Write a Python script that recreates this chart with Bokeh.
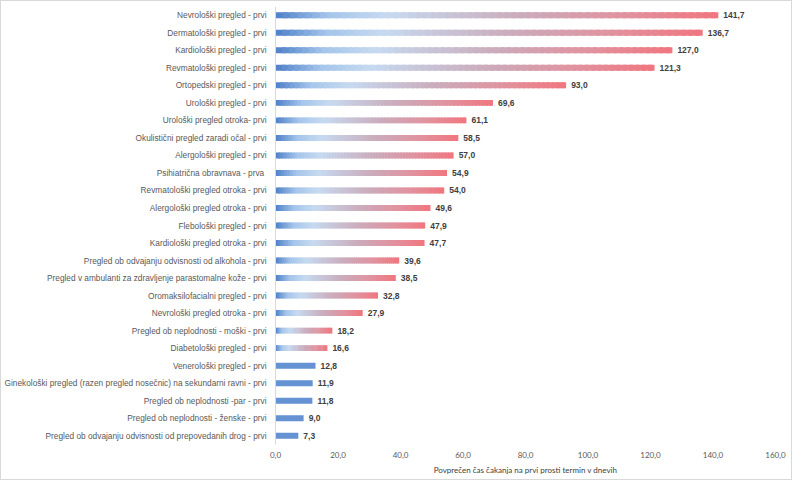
from bokeh.plotting import figure
from bokeh.models import FactorRange, Range1d, FixedTicker, CustomJSTickFormatter, ColumnDataSource
from bokeh.embed import file_html
from bokeh.resources import INLINE
from bokeh.core.properties import value

categories = [
    "Nevrološki pregled - prvi",
    "Dermatološki pregled - prvi",
    "Kardiološki pregled - prvi",
    "Revmatološki pregled - prvi",
    "Ortopedski pregled - prvi",
    "Urološki pregled - prvi",
    "Urološki pregled otroka- prvi",
    "Okulistični pregled zaradi očal - prvi",
    "Alergološki pregled - prvi",
    "Psihiatrična obravnava  - prva",
    "Revmatološki pregled otroka - prvi",
    "Alergološki pregled otroka - prvi",
    "Flebološki pregled - prvi",
    "Kardiološki pregled otroka - prvi",
    "Pregled ob odvajanju odvisnosti od alkohola - prvi",
    "Pregled v ambulanti za zdravljenje parastomalne kože - prvi",
    "Oromaksilofacialni pregled - prvi",
    "Nevrološki pregled otroka - prvi",
    "Pregled ob neplodnosti - moški - prvi",
    "Diabetološki pregled - prvi",
    "Venerološki pregled - prvi",
    "Ginekološki pregled (razen pregled nosečnic) na sekundarni ravni - prvi",
    "Pregled ob neplodnosti -par - prvi",
    "Pregled ob neplodnosti - ženske - prvi",
    "Pregled ob odvajanju odvisnosti od prepovedanih drog - prvi",
]
wait_days = [141.7, 136.7, 127.0, 121.3, 93.0, 69.6, 61.1, 58.5, 57.0, 54.9,
             54.0, 49.6, 47.9, 47.7, 39.6, 38.5, 32.8, 27.9, 18.2, 16.6,
             12.8, 11.9, 11.8, 9.0, 7.3]
x_ticks = [0, 20, 40, 60, 80, 100, 120, 140, 160]
x_title = "Povprečen čas čakanja na prvi prosti termin v dnevih"

# styling
GRADIENT_MIN = 15.0
STOPS = [(0.0, (78, 128, 200)), (0.12, (165, 197, 235)), (0.25, (198, 218, 240)),
         (0.55, (203, 172, 188)), (0.8, (226, 145, 158)), (1.0, (240, 118, 126))]
SOLID = "#6492d2"
NSEG = 60
BAR_H = 0.34


def grad_color(f):
    for (f0, c0), (f1, c1) in zip(STOPS[:-1], STOPS[1:]):
        if f <= f1:
            t = (f - f0) / (f1 - f0) if f1 > f0 else 0
            c = [round(a + (b - a) * t) for a, b in zip(c0, c1)]
            return "#%02x%02x%02x" % tuple(c)
    return "#%02x%02x%02x" % STOPS[-1][1]


seg_y, seg_l, seg_r, seg_c = [], [], [], []
for cat, v in zip(categories, wait_days):
    if v >= GRADIENT_MIN:
        step = v / NSEG
        for i in range(NSEG):
            l = i * step
            r = min(v, l + step * 1.6)
            seg_y.append(cat); seg_l.append(l); seg_r.append(r)
            seg_c.append(grad_color((i + 0.5) / NSEG))
    else:
        seg_y.append(cat); seg_l.append(0); seg_r.append(v); seg_c.append(SOLID)

p = figure(width=792, height=480, output_backend="svg", toolbar_location=None,
           y_range=FactorRange(factors=list(reversed(categories)), range_padding=0),
           x_range=Range1d(0, 160),
           min_border_left=273, min_border_right=18, min_border_top=5, min_border_bottom=37)
p.styles = {"border": "1px solid #d9d9d9"}
p.outline_line_color = None
p.xgrid.grid_line_color = None
p.ygrid.grid_line_color = None

p.hbar(y=seg_y, left=seg_l, right=seg_r, height=BAR_H, fill_color=seg_c, line_color=None)

src = ColumnDataSource(dict(y=categories, x=wait_days,
                            t=[f"{v:.1f}".replace(".", ",") for v in wait_days]))
p.text(x="x", y="y", text="t", source=src, x_offset=5, text_baseline="middle", text_align="left",
       text_font=value("Liberation Sans"), text_font_style="bold", text_font_size="8.5px",
       text_color="#404040")

xa = p.xaxis[0]
xa.ticker = FixedTicker(ticks=x_ticks)
xa.formatter = CustomJSTickFormatter(code="return tick.toFixed(1).replace('.', ',');")
xa.axis_line_color = None
xa.major_tick_line_color = None
xa.minor_tick_line_color = None
xa.major_tick_out = 0
xa.major_tick_in = 0
xa.major_label_standoff = 7
xa.major_label_text_font = "Lato"
xa.major_label_text_font_size = "8px"
xa.major_label_text_color = "#595959"
xa.axis_label = x_title
xa.axis_label_standoff = 4
xa.axis_label_text_font = "Lato"
xa.axis_label_text_font_size = "8px"
xa.axis_label_text_font_style = "normal"
xa.axis_label_text_color = "#404040"

ya = p.yaxis[0]
ya.axis_line_color = "#d9d9d9"
ya.major_tick_line_color = None
ya.minor_tick_line_color = None
ya.major_tick_out = 0
ya.major_tick_in = 0
ya.major_label_standoff = 9
ya.major_label_text_font = "Liberation Sans"
ya.major_label_text_font_size = "8.3px"
ya.major_label_text_color = "#595959"

open("out.html", "w").write(file_html(p, INLINE))
